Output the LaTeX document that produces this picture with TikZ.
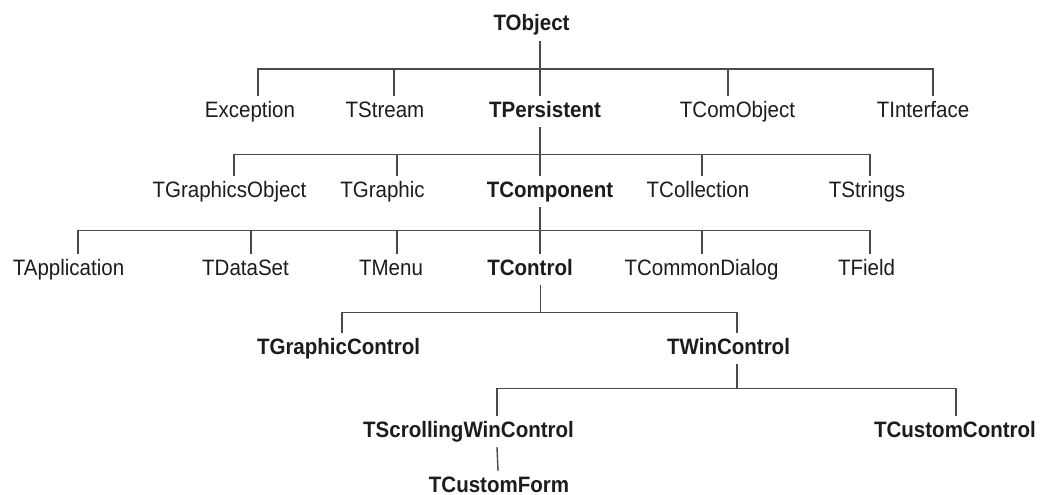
\documentclass[tikz,border=0pt]{standalone}
\usepackage{fontspec}
\setmainfont{Liberation Sans}[FakeStretch=0.92]
\definecolor{linkcol}{HTML}{4A4A4A}
\definecolor{txtcol}{HTML}{1C1C1C}
\begin{document}
\begin{tikzpicture}[x=1pt,y=1pt,
  cls/.style={anchor=base, inner xsep=0pt, inner ysep=5pt, text height=16pt, text depth=5pt,
    font=\fontsize{22.3}{24}\selectfont, text=txtcol},
  bcls/.style={cls, font=\fontsize{22.3}{24}\selectfont\bfseries},
  link/.style={draw=linkcol, line width=1.4pt}]
\useasboundingbox (0,0) rectangle (1041,-495);
% row 0
\node[bcls] (tobject) at (531.5,-31) {TObject};
% row 1
\node[cls]  (exception)  at (250,-117)   {Exception};
\node[cls]  (tstream)    at (385,-117)   {TStream};
\node[bcls] (tpersistent) at (545,-117)  {TPersistent};
\node[cls]  (tcomobject) at (737.5,-117) {TComObject};
\node[cls]  (tinterface) at (923,-117)   {TInterface};
% row 2
\node[cls]  (tgraphicsobject) at (229.5,-197) {TGraphicsObject};
\node[cls]  (tgraphic)        at (382.5,-197) {TGraphic};
\node[bcls] (tcomponent)      at (550,-197)   {TComponent};
\node[cls]  (tcollection)     at (698,-197)   {TCollection};
\node[cls]  (tstrings)        at (867,-197)   {TStrings};
% row 3
\node[cls]  (tapplication)   at (68.5,-275)  {TApplication};
\node[cls]  (tdataset)       at (245.5,-275) {TDataSet};
\node[cls]  (tmenu)          at (391,-275)   {TMenu};
\node[bcls] (tcontrol)       at (530,-275)   {TControl};
\node[cls]  (tcommondialog)  at (701.5,-275) {TCommonDialog};
\node[cls]  (tfield)         at (866.5,-275) {TField};
% row 4
\node[bcls] (tgraphiccontrol) at (338.5,-354) {TGraphicControl};
\node[bcls] (twincontrol)     at (728.5,-354) {TWinControl};
% row 5
\node[bcls] (tscrolling)     at (468.5,-437) {TScrollingWinControl};
\node[bcls] (tcustomcontrol) at (955,-437)   {TCustomControl};
% row 6
\node[bcls, text depth=0pt, inner ysep=3pt, text height=18pt] (tcustomform) at (499,-492) {TCustomForm};

% TObject children (bus y = 69)
\draw[link] ([xshift=8.5]tobject.south) -- ++(0,-28) -| ([xshift=8]exception.north);
\draw[link] ([xshift=8.5]tobject.south) -- ++(0,-28) -| ([xshift=9]tstream.north);
\draw[link] ([xshift=8.5]tobject.south) -- ++(0,-28) -| ([xshift=-5]tpersistent.north);
\draw[link] ([xshift=8.5]tobject.south) -- ++(0,-28) -| ([xshift=-9.5]tcomobject.north);
\draw[link] ([xshift=8.5]tobject.south) -- ++(0,-28) -| ([xshift=10]tinterface.north);
% TPersistent children (bus y = 154)
\draw[link] ([xshift=-5]tpersistent.south) -- ++(0,-27) -| ([xshift=4.5]tgraphicsobject.north);
\draw[link] ([xshift=-5]tpersistent.south) -- ++(0,-27) -| ([xshift=14.5]tgraphic.north);
\draw[link] ([xshift=-5]tpersistent.south) -- ++(0,-27) -| ([xshift=-10]tcomponent.north);
\draw[link] ([xshift=-5]tpersistent.south) -- ++(0,-27) -| ([xshift=4]tcollection.north);
\draw[link] ([xshift=-5]tpersistent.south) -- ++(0,-27) -| ([xshift=3]tstrings.north);
% TComponent children (bus y = 230)
\draw[link] ([xshift=-10]tcomponent.south) -- ++(0,-23) -| ([xshift=9.5]tapplication.north);
\draw[link] ([xshift=-10]tcomponent.south) -- ++(0,-23) -| ([xshift=5.5]tdataset.north);
\draw[link] ([xshift=-10]tcomponent.south) -- ++(0,-23) -| ([xshift=6]tmenu.north);
\draw[link] ([xshift=-10]tcomponent.south) -- ++(0,-23) -| ([xshift=10]tcontrol.north);
\draw[link] ([xshift=-10]tcomponent.south) -- ++(0,-23) -| ([xshift=0.5]tcommondialog.north);
\draw[link] ([xshift=-10]tcomponent.south) -- ++(0,-23) -| ([xshift=3.5]tfield.north);
% TControl children (bus y = 312)
\draw[link] ([xshift=10.5]tcontrol.south) -- ++(0,-27) -| ([xshift=3.5]tgraphiccontrol.north);
\draw[link] ([xshift=10.5]tcontrol.south) -- ++(0,-27) -| ([xshift=8.5]twincontrol.north);
% TWinControl children (bus y = 388)
\draw[link] ([xshift=8.5]twincontrol.south) -- ++(0,-24) -| ([xshift=28.5]tscrolling.north);
\draw[link] ([xshift=8.5]twincontrol.south) -- ++(0,-24) -| ([xshift=1]tcustomcontrol.north);
% TScrollingWinControl child
\draw[link] ([xshift=28.5]tscrolling.south) -- ([xshift=-1]tcustomform.north);
\end{tikzpicture}
\end{document}
